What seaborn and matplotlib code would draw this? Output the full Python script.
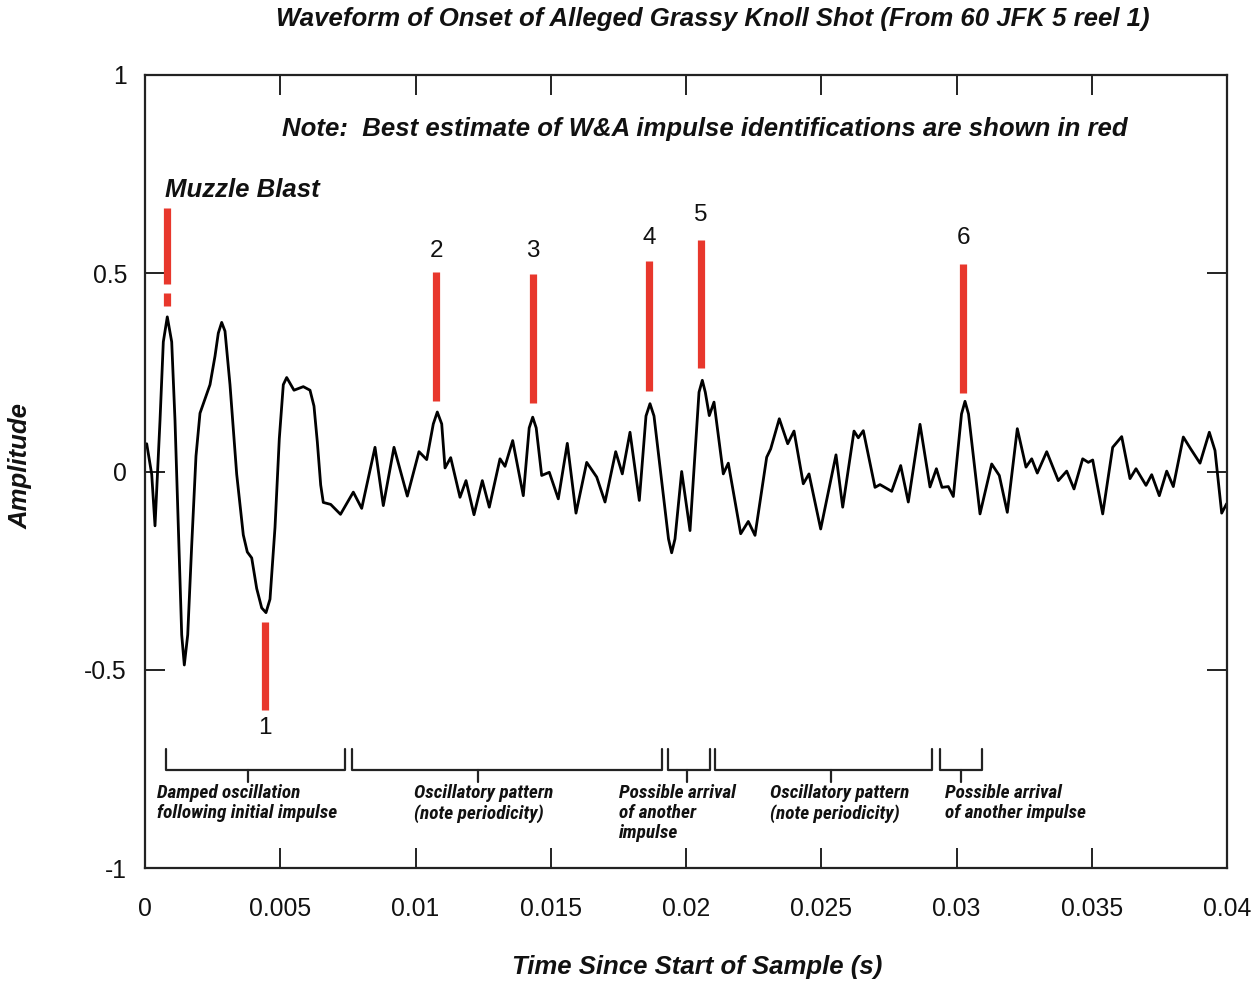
import numpy as np
import pandas as pd
import seaborn as sns
import matplotlib
matplotlib.use("Agg")
import matplotlib.pyplot as plt
from matplotlib import font_manager as fm

# ---------------- data ----------------
time_s = [
    0.0, 0.0000628, 0.000248, 0.000370, 0.000555, 0.000677, 0.000824, 0.000987,
    0.001109, 0.001231, 0.001357, 0.001453, 0.001579, 0.001726, 0.001885,
    0.002033, 0.002218, 0.002403, 0.002588, 0.002710, 0.002835, 0.002957,
    0.003142, 0.003390, 0.003634, 0.003782, 0.003945, 0.004129, 0.004314,
    0.004473, 0.004621, 0.004806, 0.004965, 0.005113, 0.005238, 0.005508,
    0.005852, 0.006100, 0.006247, 0.006370, 0.006495, 0.006591,
    0.006865, 0.007227,
    0.007701, 0.008011, 0.008503, 0.008810, 0.009205, 0.009697, 0.010129,
    0.010414, 0.010658, 0.010806, 0.010969, 0.011091, 0.011301, 0.011645,
    0.011867, 0.012163, 0.012470, 0.012728, 0.013124, 0.013309, 0.013593,
    0.013985, 0.014203, 0.014333, 0.014462, 0.014665, 0.014946, 0.015279,
    0.015612, 0.015933, 0.016329, 0.016699, 0.017006, 0.017401, 0.017645,
    0.017930, 0.018274, 0.018521, 0.018669, 0.018817, 0.019353, 0.019470,
    0.019593, 0.019840, 0.020148, 0.020481, 0.020603, 0.020713, 0.020861,
    0.021035, 0.021379, 0.021564, 0.022022, 0.022303, 0.022551, 0.022983,
    0.023131, 0.023449, 0.023760, 0.023993, 0.024336, 0.024547, 0.024979,
    0.025545, 0.025793, 0.026211, 0.026370, 0.026555, 0.026987, 0.027172,
    0.027604, 0.027937, 0.028218, 0.028651, 0.029020, 0.029257, 0.029464,
    0.029697, 0.029882, 0.030185, 0.030314, 0.030444, 0.030869, 0.031301,
    0.031582, 0.031878, 0.032248, 0.032569, 0.032780, 0.032987, 0.033335,
    0.033763, 0.034074, 0.034344, 0.034665, 0.034872, 0.035035, 0.035405,
    0.035774, 0.036107, 0.036414, 0.036636, 0.037006, 0.037216, 0.037497,
    0.037771, 0.038015, 0.038385, 0.038658, 0.039002, 0.039346, 0.039556,
    0.039804, 0.039989,
]
amplitude = [
    0.065, 0.07, -0.007, -0.137, 0.129, 0.327, 0.39, 0.327,
    0.129, -0.141, -0.412, -0.488, -0.412, -0.187, 0.039,
    0.147, 0.183, 0.219, 0.291, 0.349, 0.376, 0.354,
    0.219, -0.007, -0.160, -0.203, -0.218, -0.295, -0.344,
    -0.356, -0.322, -0.141, 0.083, 0.219, 0.237, 0.205,
    0.214, 0.205, 0.165, 0.075, -0.034, -0.078,
    -0.083, -0.108,
    -0.052, -0.093, 0.061, -0.086, 0.061, -0.062, 0.05,
    0.03, 0.12, 0.150, 0.12, 0.009, 0.035, -0.065,
    -0.023, -0.109, -0.023, -0.09, 0.032, 0.013, 0.078,
    -0.061, 0.11, 0.137, 0.11, -0.01, -0.002, -0.069,
    0.071, -0.105, 0.023, -0.014, -0.077, 0.05, -0.006,
    0.099, -0.073, 0.14, 0.171, 0.14, -0.17, -0.205,
    -0.17, 0.0, -0.149, 0.2, 0.23, 0.2, 0.141,
    0.175, -0.006, 0.021, -0.157, -0.126, -0.161, 0.036,
    0.057, 0.133, 0.07, 0.102, -0.031, -0.006, -0.145,
    0.042, -0.09, 0.102, 0.085, 0.103, -0.04, -0.033,
    -0.05, 0.015, -0.077, 0.119, -0.039, 0.007, -0.04,
    -0.038, -0.063, 0.145, 0.177, 0.145, -0.107, 0.019,
    -0.01, -0.103, 0.108, 0.011, 0.032, -0.004, 0.05,
    -0.023, 0.001, -0.044, 0.032, 0.023, 0.029, -0.107,
    0.061, 0.088, -0.018, 0.007, -0.035, -0.008, -0.061,
    0.001, -0.038, 0.087, 0.057, 0.021, 0.099, 0.053,
    -0.105, -0.081,
]

# red impulse markers (W&A identifications)
impulse_labels = ["", "1", "2", "3", "4", "5", "6"]
impulse_time = [0.000813, 0.004436, 0.01076, 0.01433, 0.01864, 0.02054, 0.03025]
impulse_top = [0.665, -0.380, 0.504, 0.497, 0.530, 0.584, 0.524]
impulse_bottom = [0.473, -0.601, 0.177, 0.172, 0.204, 0.262, 0.198]
impulse_label_y = [None, -0.648, 0.557, 0.557, 0.588, 0.646, 0.588]
muzzle_extra_top = [0.449]
muzzle_extra_bottom = [0.417]

# brackets along the bottom
bracket_left = [0.000776, 0.00765, 0.01933, 0.02107, 0.02939]
bracket_right = [0.00739, 0.01911, 0.02089, 0.02908, 0.03093]
bracket_center = [0.00381, 0.01231, 0.02002, 0.02535, 0.03017]
bracket_text = [
    "Damped oscillation\nfollowing initial impulse",
    "Oscillatory pattern\n(note periodicity)",
    "Possible arrival\nof another\nimpulse",
    "Oscillatory pattern\n(note periodicity)",
    "Possible arrival\nof another impulse",
]
bracket_text_x = [0.000444, 0.009945, 0.017523, 0.023105, 0.029575]

x_ticks = [0, 0.005, 0.01, 0.015, 0.02, 0.025, 0.03, 0.035, 0.04]
x_tick_labels = ["0", "0.005", "0.01", "0.015", "0.02", "0.025", "0.03", "0.035", "0.04"]
y_ticks = [-1, -0.5, 0, 0.5, 1]
y_tick_labels = ["-1", "-0.5", "0", "0.5", "1"]

title = "Waveform of Onset of Alleged Grassy Knoll Shot (From 60 JFK 5 reel 1)"
note = "Note:  Best estimate of W&A impulse identifications are shown in red"
xlabel = "Time Since Start of Sample (s)"
ylabel = "Amplitude"

# ---------------- style ----------------
sns.set_theme(style="white")
plt.rcParams["font.family"] = ["Liberation Sans", "DejaVu Sans"]
RED = "#e8372c"
INK = "#111111"

installed = {f.name for f in fm.fontManager.ttflist}
narrow = next((n for n in ["Liberation Sans Narrow", "Arial Narrow",
                           "Roboto Condensed", "Open Sans Condensed",
                           "DejaVu Sans Condensed"] if n in installed), None)
if narrow:
    br_family, br_size, br_ls = [narrow, "Liberation Sans"], 13.9, 1.17
else:
    br_family, br_size, br_ls = ["Liberation Sans", "DejaVu Sans"], 11.4, 1.42

fig = plt.figure(figsize=(12.54, 9.82), dpi=100)
ax = fig.add_axes([145 / 1254, 1 - 868 / 982, 1082 / 1254, 793 / 982])

df = pd.DataFrame({"t": time_s, "a": amplitude})
sns.lineplot(data=df, x="t", y="a", ax=ax, color="black", lw=2.0,
             sort=False, estimator=None)
for ln in ax.lines:
    ln.set_solid_joinstyle("round")

ax.vlines(impulse_time, impulse_bottom, impulse_top, color=RED, lw=5.2,
          capstyle="butt")
ax.vlines(impulse_time[:1], muzzle_extra_bottom, muzzle_extra_top, color=RED,
          lw=5.2, capstyle="butt")
for lab, t, y in zip(impulse_labels, impulse_time, impulse_label_y):
    if lab:
        ax.text(t, y, lab, ha="center", va="center", fontsize=17.5, color=INK)

# brackets
top_b, base_b, tick_b = -0.701, -0.752, -0.782
for l, r, c in zip(bracket_left, bracket_right, bracket_center):
    ax.plot([l, l, r, r], [top_b, base_b, base_b, top_b], color="#222222", lw=1.6)
    ax.plot([c, c], [base_b, tick_b], color="#222222", lw=1.6)
for txt, x in zip(bracket_text, bracket_text_x):
    ax.text(x, -0.787, txt, ha="left", va="top", fontsize=br_size,
            fontweight="bold", fontstyle="italic", family=br_family,
            linespacing=br_ls, color=INK)

ax.text(0.00074, 0.709, "Muzzle Blast", ha="left", va="center", fontsize=18.5,
        fontweight="bold", fontstyle="italic", color=INK)
ax.text(0.0207, 0.865, note, ha="center", va="center", fontsize=18.5,
        fontweight="bold", fontstyle="italic", color=INK)

ax.set_xlim(0, 0.04)
ax.set_ylim(-1, 1)
ax.set_xticks(x_ticks)
ax.set_xticklabels(x_tick_labels)
ax.set_yticks(y_ticks)
ax.set_yticklabels(y_tick_labels)
ax.set_xlabel("")
ax.set_ylabel("")
ax.tick_params(axis="both", which="major", direction="in", length=14.4,
               width=1.4, color="#222222", labelsize=17.8, labelcolor=INK,
               top=True, right=True, bottom=True, left=True)
ax.tick_params(axis="x", pad=21)
ax.tick_params(axis="y", pad=13)
for s in ax.spines.values():
    s.set_visible(True)
    s.set_color("#222222")
    s.set_linewidth(1.6)
ax.grid(False)

fig.text(713 / 1254, 1 - 19 / 982, title, ha="center", va="center",
         fontsize=18.5, fontweight="bold", fontstyle="italic", color=INK)
fig.text(697 / 1254, 1 - 967 / 982, xlabel, ha="center", va="center",
         fontsize=18.5, fontweight="bold", fontstyle="italic", color=INK)
fig.text(21 / 1254, 1 - 466 / 982, ylabel, ha="center", va="center",
         rotation=90, fontsize=18.5, fontweight="bold", fontstyle="italic",
         color=INK)

fig.savefig("out.png", dpi=100, facecolor="white")
